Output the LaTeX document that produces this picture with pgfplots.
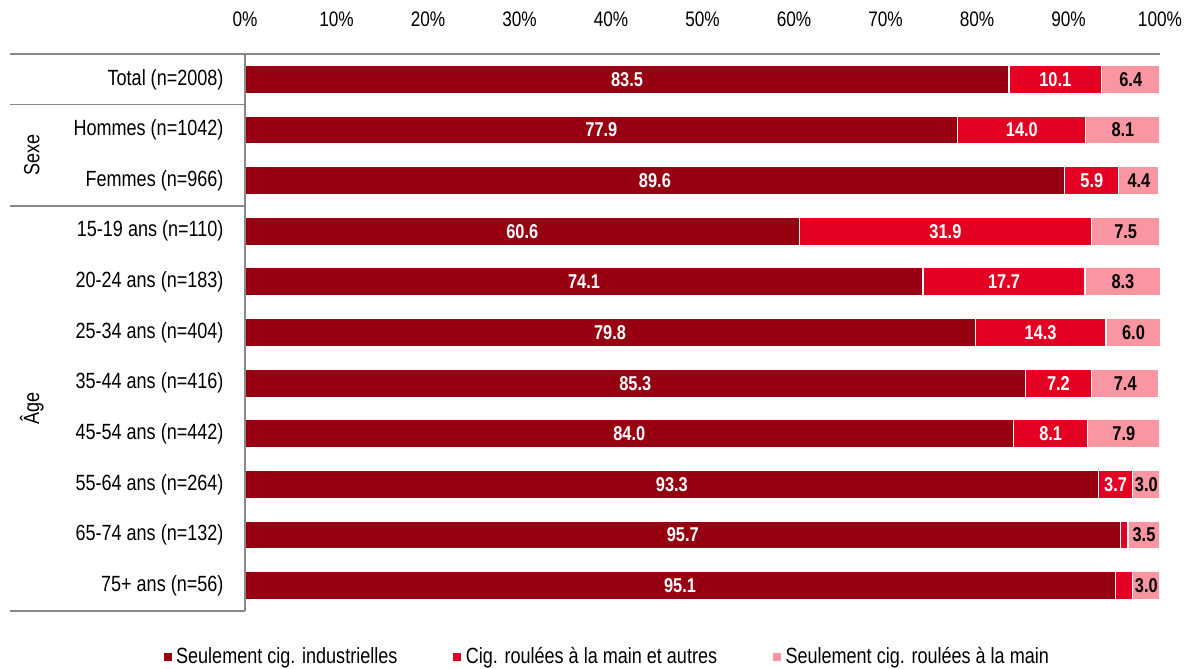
\documentclass[border=0pt]{standalone}
\usepackage{pgfplots}
\usepackage{pgfplotstable}
\pgfplotsset{compat=1.18}
\usepackage{fontspec}
\setmainfont[FakeStretch=0.82]{Liberation Sans}
\definecolor{cdark}{RGB}{150,0,16}
\definecolor{cred}{RGB}{227,0,34}
\definecolor{cpink}{RGB}{249,150,162}
\definecolor{cline}{RGB}{136,136,136}
\pgfplotstableread{
y a b c
0 83.5 10.1 6.4
1 77.9 14.0 8.1
2 89.6 5.9 4.4
3 60.6 31.9 7.5
4 74.1 17.7 8.3
5 79.8 14.3 6.0
6 85.3 7.2 7.4
7 84.0 8.1 7.9
8 93.3 3.7 3.0
9 95.7 0.8 3.5
10 95.1 1.9 3.0
}\data
\begin{document}
\begin{tikzpicture}
\useasboundingbox (0,0) rectangle (1192bp,-669bp);
\begin{axis}[
  at={(245bp,-54bp)}, anchor=north west,
  width=915bp, height=557bp, scale only axis,
  xmin=0, xmax=100, ymin=-0.5, ymax=10.5, y dir=reverse,
  clip=false,
  axis line style={draw=none},
  major tick length=0pt,
  xtick={0,10,...,100},
  xticklabel pos=upper,
  xticklabel={\pgfmathprintnumber{\tick}\%},
  xticklabel style={font=\fontsize{21bp}{24bp}\selectfont, yshift=24bp},
  ytick={0,...,10},
  yticklabels={{Total (n=2008)},{Hommes (n=1042)},{Femmes (n=966)},{15-19 ans (n=110)},{20-24 ans (n=183)},{25-34 ans (n=404)},{35-44 ans (n=416)},{45-54 ans (n=442)},{55-64 ans (n=264)},{65-74 ans (n=132)},{75+ ans (n=56)}},
  yticklabel style={font=\fontsize{22bp}{25bp}\selectfont, xshift=-18bp},
  /pgf/number format/assume math mode=true,
  legend columns=3,
  legend style={at={(0.396,-0.081)}, anchor=center, draw=none, fill=none,
    font=\fontsize{22bp}{25bp}\selectfont,
    /tikz/every odd column/.append style={column sep=3bp},
    /tikz/every even column/.append style={column sep=54bp}},
  legend cell align=left,
]
\addlegendimage{legend image code/.code={\fill[cdark] (0bp,-4bp) rectangle (7bp,3bp);}}
\addlegendentry{Seulement cig. industrielles}
\addlegendimage{legend image code/.code={\fill[cred] (0bp,-4bp) rectangle (7bp,3bp);}}
\addlegendentry{Cig. roulées à la main et autres}
\addlegendimage{legend image code/.code={\fill[cpink] (0bp,-4bp) rectangle (7bp,3bp);}}
\addlegendentry{Seulement cig. roulées à la main}

\addplot[xbar, bar shift=0pt, bar width=28bp, fill=cpink, draw=white, line width=1.2bp, forget plot]
  table[x expr=\thisrow{a}+\thisrow{b}+\thisrow{c}, y=y] {\data};
\addplot[xbar, bar shift=0pt, bar width=28bp, fill=cred, draw=white, line width=1.2bp, forget plot]
  table[x expr=\thisrow{a}+\thisrow{b}, y=y] {\data};
\addplot[xbar, bar shift=0pt, bar width=28bp, fill=cdark, draw=white, line width=1.2bp, forget plot]
  table[x=a, y=y] {\data};

\addplot[draw=none, mark=none, forget plot, point meta=explicit,
  nodes near coords={\pgfmathprintnumber[fixed,fixed zerofill,precision=1]{\pgfplotspointmeta}},
  nodes near coords style={anchor=center, text=white, font=\bfseries\fontsize{20bp}{23bp}\selectfont}]
  table[x expr=\thisrow{a}/2, y=y, meta=a] {\data};
\addplot[draw=none, mark=none, forget plot, point meta=explicit,
  skip coords between index={9}{11},
  nodes near coords={\pgfmathprintnumber[fixed,fixed zerofill,precision=1]{\pgfplotspointmeta}},
  nodes near coords style={anchor=center, text=white, font=\bfseries\fontsize{20bp}{23bp}\selectfont}]
  table[x expr=\thisrow{a}+\thisrow{b}/2, y=y, meta=b] {\data};
\addplot[draw=none, mark=none, forget plot, point meta=explicit,
  nodes near coords={\pgfmathprintnumber[fixed,fixed zerofill,precision=1]{\pgfplotspointmeta}},
  nodes near coords style={anchor=center, text=black, font=\bfseries\fontsize{20bp}{23bp}\selectfont}]
  table[x expr=\thisrow{a}+\thisrow{b}+\thisrow{c}/2, y=y, meta=c] {\data};

\draw[cline, line width=1.5bp] (axis cs:-25.7,-0.5) -- (axis cs:100,-0.5);
\draw[cline, line width=1.2bp] (axis cs:0,-0.5) -- (axis cs:0,10.5);
\draw[cline, line width=1.2bp] (axis cs:-25.7,0.5) -- (axis cs:0,0.5);
\draw[cline, line width=1.2bp] (axis cs:-25.7,2.5) -- (axis cs:0,2.5);
\draw[cline, line width=1.2bp] (axis cs:-25.7,10.5) -- (axis cs:0,10.5);
\node[rotate=90, font=\fontsize{22bp}{25bp}\selectfont] at (axis cs:-23.3,1.5) {Sexe};
\node[rotate=90, font=\fontsize{22bp}{25bp}\selectfont] at (axis cs:-23.3,6.5) {Âge};
\end{axis}
\end{tikzpicture}
\end{document}
